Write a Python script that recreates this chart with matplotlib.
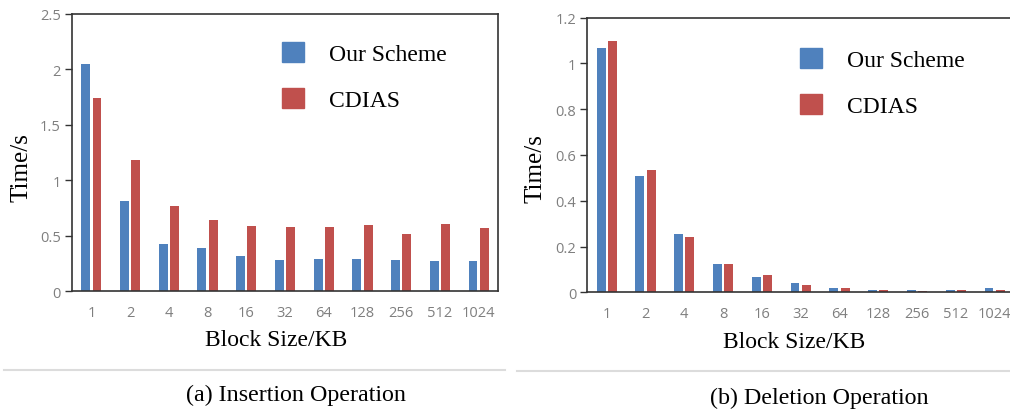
import matplotlib.pyplot as plt
import numpy as np
from matplotlib.lines import Line2D
from matplotlib.patches import Patch

block_sizes = ["1", "2", "4", "8", "16", "32", "64", "128", "256", "512", "1024"]

# insertion time (s)
insert_ours = [2.05, 0.81, 0.43, 0.39, 0.32, 0.28, 0.29, 0.29, 0.28, 0.27, 0.27]
insert_cdias = [1.74, 1.18, 0.77, 0.64, 0.59, 0.58, 0.58, 0.60, 0.52, 0.61, 0.57]

# deletion time (s)
delete_ours = [1.065, 0.507, 0.254, 0.123, 0.068, 0.039, 0.017, 0.012, 0.012, 0.012, 0.017]
delete_cdias = [1.099, 0.535, 0.243, 0.123, 0.074, 0.033, 0.017, 0.012, 0.006, 0.012, 0.012]

BLUE = "#4f81bd"
RED = "#c0504d"
SERIF = "Liberation Serif"

fig = plt.figure(figsize=(10.1, 4.1), dpi=100)


def px_axes(left, top, right, bottom):
    W, H = 1010, 410
    return fig.add_axes([left / W, 1 - bottom / H, (right - left) / W, (bottom - top) / H])


def draw_panel(ax, ours, cdias, ymax, yticks, ytick_labels):
    x = np.arange(len(block_sizes))
    w = 0.23
    ax.bar(x - 0.145, ours, w, color=BLUE, label="Our Scheme")
    ax.bar(x + 0.145, cdias, w, color=RED, label="CDIAS")
    ax.set_xlim(-0.5, len(block_sizes) - 0.5)
    ax.set_ylim(0, ymax)
    ax.set_xticks(x)
    ax.set_xticklabels(block_sizes)
    ax.set_yticks(yticks)
    ax.set_yticklabels(ytick_labels)
    ax.tick_params(axis="x", length=0, pad=10, labelsize=10.5, labelcolor="#7f7f7f")
    ax.tick_params(axis="y", length=5, width=1, color="#333333", pad=3,
                   labelsize=10.5, labelcolor="#7f7f7f")
    for lab in ax.get_xticklabels() + ax.get_yticklabels():
        lab.set_fontfamily("Open Sans")
    for sp in ax.spines.values():
        sp.set_color("#333333")
        sp.set_linewidth(1.2)
    ax.set_xlabel("Block Size/KB", fontsize=17, family=SERIF, va="center")
    ax.set_ylabel("Time/s", fontsize=18, family=SERIF, va="center")
    handles = [Patch(color=BLUE), Patch(color=RED)]
    return handles


# (a) insertion
ax1 = px_axes(72, 15, 498, 292.3)
h = draw_panel(ax1, insert_ours, insert_cdias, 2.5,
               [0, 0.5, 1, 1.5, 2, 2.5], ["0", "0.5", "1", "1.5", "2", "2.5"])
ax1.xaxis.set_label_coords((276.5 - 72) / 426, -(340 - 292.3) / 277.3)
ax1.yaxis.set_label_coords(-(72 - 21) / 426, (292.3 - 167.5) / 277.3)
ax1.legend(h, ["Our Scheme", "CDIAS"], loc="upper left", frameon=False,
           bbox_to_anchor=(282 / 1010, 1 - 43 / 410), bbox_transform=fig.transFigure,
           borderpad=0, borderaxespad=0, handlelength=0.93, handleheight=0.93,
           handletextpad=1.05, labelspacing=0.95, prop={"family": SERIF, "size": 17})

# (b) deletion
ax2 = px_axes(587.3, 18.5, 1014, 293.3)
h = draw_panel(ax2, delete_ours, delete_cdias, 1.2,
               [0, 0.2, 0.4, 0.6, 0.8, 1, 1.2], ["0", "0.2", "0.4", "0.6", "0.8", "1", "1.2"])
ax2.xaxis.set_label_coords((794 - 587.3) / 426.7, -(343 - 293.3) / 274.8)
ax2.yaxis.set_label_coords(-(587.3 - 535.5) / 426.7, (293.3 - 169) / 274.8)
ax2.legend(h, ["Our Scheme", "CDIAS"], loc="upper left", frameon=False,
           bbox_to_anchor=(800 / 1010, 1 - 49 / 410), bbox_transform=fig.transFigure,
           borderpad=0, borderaxespad=0, handlelength=0.93, handleheight=0.93,
           handletextpad=1.05, labelspacing=0.95, prop={"family": SERIF, "size": 17})

# caption rules and captions
fig.add_artist(Line2D([4 / 1010, 505 / 1010], [1 - 371 / 410] * 2, color="#dcdcdc", lw=1.5))
fig.add_artist(Line2D([517 / 1010, 1.0], [1 - 372 / 410] * 2, color="#dcdcdc", lw=1.5))
fig.text(296 / 1010, 1 - 395 / 410, "(a) Insertion Operation", family=SERIF,
         fontsize=17.3, ha="center", va="center")
fig.text(819 / 1010, 1 - 398 / 410, "(b) Deletion Operation", family=SERIF,
         fontsize=17.3, ha="center", va="center")

fig.savefig("out.png", dpi=100)
